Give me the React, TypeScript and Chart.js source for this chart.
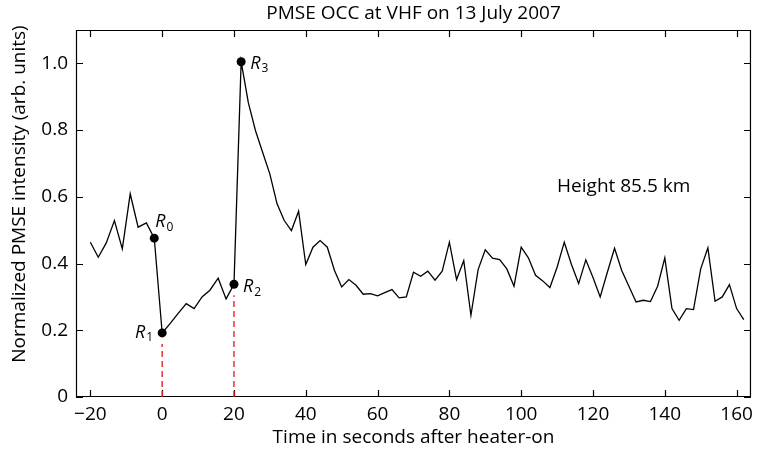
import React, { useEffect, useRef } from 'react';
import { Chart, registerables } from 'chart.js';

Chart.register(...registerables);

// Time (s after heater-on) and normalized PMSE intensity
const timeSec = [
  -20, -17.8, -15.6, -13.3, -11.1, -8.9, -6.7, -4.4, -2.2,
  0, 2.2, 4.4, 6.7, 8.9, 11.1, 13.3, 15.6, 17.8, 20,
  22, 24, 26, 28, 30, 32, 34, 36, 38, 40, 42, 44, 46, 48, 50,
  52, 54, 56, 58, 60, 62, 64, 66, 68, 70, 72, 74, 76, 78, 80,
  82, 84, 86, 88, 90, 92, 94, 96, 98, 100, 102, 104, 106, 108, 110,
  112, 114, 116, 118, 120, 122, 124, 126, 128, 130, 132, 134, 136, 138, 140,
  142, 144, 146, 148, 150, 152, 154, 156, 158, 160, 162,
];
const intensity = [
  0.464, 0.419, 0.461, 0.529, 0.444, 0.609, 0.509, 0.522, 0.476,
  0.192, 0.22, 0.25, 0.28, 0.265, 0.30, 0.32, 0.356, 0.294, 0.338,
  1.005, 0.882, 0.798, 0.733, 0.668, 0.579, 0.529, 0.499, 0.557, 0.397, 0.449, 0.469, 0.449, 0.379, 0.330,
  0.352, 0.335, 0.308, 0.310, 0.303, 0.313, 0.322, 0.297, 0.300, 0.374, 0.362, 0.377, 0.350, 0.377, 0.464,
  0.352, 0.409, 0.245, 0.382, 0.441, 0.416, 0.412, 0.384, 0.332, 0.449, 0.417, 0.365, 0.348, 0.328, 0.389,
  0.464, 0.397, 0.340, 0.411, 0.358, 0.300, 0.374, 0.446, 0.379, 0.332, 0.285, 0.290, 0.286, 0.332, 0.417,
  0.265, 0.230, 0.265, 0.262, 0.384, 0.447, 0.287, 0.300, 0.337, 0.265, 0.232,
];

// Marked points R0..R3 (by time) and heater reference lines
const markerNames = ['0', '1', '2', '3'];
const markerTimes = [-2.2, 0, 20, 22];
const heaterLineTimes = [0, 20];

const xTickValues = [-20, 0, 20, 40, 60, 80, 100, 120, 140, 160];
const yTickValues = [0, 0.2, 0.4, 0.6, 0.8, 1.0];

const titleText = 'PMSE OCC at VHF on 13 July 2007';
const xTitle = 'Time in seconds after heater-on';
const yTitle = 'Normalized PMSE intensity (arb. units)';
const heightLabel = 'Height 85.5 km';
const heightLabelPos = { x: 110, y: 0.63 };

const FONT = '"Open Sans", "Noto Sans", sans-serif';
const FS = 19;

const valueAt = (t: number) => intensity[timeSec.indexOf(t)];

export default function App() {
  const ref = useRef<HTMLCanvasElement | null>(null);

  useEffect(() => {
    document.body.style.margin = '0';
    const canvas = ref.current;
    if (!canvas) return;

    const mainData = timeSec.map((t, i) => ({ x: t, y: intensity[i] }));
    const markerData = markerTimes.map((t) => ({ x: t, y: valueAt(t) }));

    const heaterSets = heaterLineTimes.map((t) => ({
      type: 'line' as const,
      data: [
        { x: t, y: 0 },
        { x: t, y: valueAt(t) - 0.033 },
      ],
      borderColor: '#e5262b',
      borderWidth: 1.4,
      borderDash: [6, 4],
      pointRadius: 0,
      order: 3,
    }));

    const framePlugin = {
      id: 'frameTicks',
      beforeDatasetsDraw(chart: any) {
        const { ctx, chartArea, scales } = chart;
        const { left, right, top, bottom } = chartArea;
        const xs = scales.x;
        const ys = scales.y;
        ctx.save();
        ctx.strokeStyle = '#000';
        ctx.lineWidth = 1.2;
        ctx.beginPath();
        ctx.rect(left + 0.5, top + 0.5, right - left - 1, bottom - top - 1);
        ctx.stroke();
        ctx.beginPath();
        xs.ticks.forEach((tk: any) => {
          const px = Math.round(xs.getPixelForValue(tk.value)) + 0.5;
          ctx.moveTo(px, bottom);
          ctx.lineTo(px, bottom - 7);
          ctx.moveTo(px, top);
          ctx.lineTo(px, top + 7);
        });
        ys.ticks.forEach((tk: any) => {
          const py = Math.round(ys.getPixelForValue(tk.value)) + 0.5;
          ctx.moveTo(left, py);
          ctx.lineTo(left + 7, py);
          ctx.moveTo(right, py);
          ctx.lineTo(right - 7, py);
        });
        ctx.stroke();
        ctx.restore();
      },
      afterDraw(chart: any) {
        const { ctx, chartArea, scales } = chart;
        const { left, right } = chartArea;
        const xs = scales.x;
        const ys = scales.y;
        ctx.save();
        ctx.fillStyle = '#000';
        ctx.textBaseline = 'middle';
        ctx.textAlign = 'center';
        ctx.font = `${FS}px ${FONT}`;
        const cx = (left + right) / 2;
        ctx.fillText(titleText, cx, 14);
        ctx.fillText(xTitle, cx, 438);
        ctx.save();
        ctx.translate(20, 194);
        ctx.rotate(-Math.PI / 2);
        ctx.fillText(yTitle, 0, 0);
        ctx.restore();

        ctx.textAlign = 'left';
        ctx.fillText(heightLabel, xs.getPixelForValue(heightLabelPos.x), ys.getPixelForValue(heightLabelPos.y));

        // R labels
        const meta = chart.getDatasetMeta(1);
        const offs = [
          { dx: 1, dy: -16, align: 'left' },
          { dx: -9, dy: 0, align: 'right' },
          { dx: 9, dy: 3, align: 'left' },
          { dx: 9, dy: 2, align: 'left' },
        ];
        meta.data.forEach((pt: any, i: number) => {
          const o = offs[i];
          ctx.font = `italic 18px ${FONT}`;
          const wR = ctx.measureText('R').width;
          ctx.font = `12px ${FONT}`;
          const wS = ctx.measureText(markerNames[i]).width;
          const total = wR + 1 + wS;
          let x0 = pt.x + o.dx;
          if (o.align === 'right') x0 -= total;
          const yy = pt.y + o.dy;
          ctx.textAlign = 'left';
          ctx.font = `italic 18px ${FONT}`;
          ctx.fillText('R', x0, yy);
          ctx.font = `12px ${FONT}`;
          ctx.fillText(markerNames[i], x0 + wR + 1, yy + 5);
        });
        ctx.restore();
      },
    };

    const chart = new Chart(canvas, {
      type: 'line',
      data: {
        datasets: [
          {
            data: mainData,
            borderColor: '#000',
            borderWidth: 1.3,
            pointRadius: 0,
            tension: 0,
            order: 2,
          },
          {
            data: markerData,
            showLine: false,
            pointRadius: 4.5,
            pointBackgroundColor: '#000',
            pointBorderColor: '#000',
            pointBorderWidth: 0,
            order: 1,
          },
          ...heaterSets,
        ] as any,
      },
      options: {
        animation: false,
        responsive: false,
        events: [],
        layout: { padding: { top: 30, right: 3, left: 0, bottom: 0 } },
        plugins: {
          legend: { display: false },
          title: { display: false },
          tooltip: { enabled: false },
        },
        scales: {
          x: {
            type: 'linear',
            min: -24,
            max: 164,
            grid: { display: false, drawTicks: false },
            border: { display: false },
            afterBuildTicks: (scale: any) => {
              scale.ticks = xTickValues.map((v) => ({ value: v }));
            },
            afterFit: (scale: any) => {
              scale.height = 55;
            },
            ticks: {
              color: '#000',
              padding: 6,
              maxRotation: 0,
              autoSkip: false,
              font: { family: FONT, size: FS },
              callback: (v: any) => (v < 0 ? '\u2212' + Math.abs(v) : String(v)),
            },
          },
          y: {
            type: 'linear',
            min: 0,
            max: 1.1,
            grid: { display: false, drawTicks: false },
            border: { display: false },
            afterBuildTicks: (scale: any) => {
              scale.ticks = yTickValues.map((v) => ({ value: v }));
            },
            afterFit: (scale: any) => {
              scale.width = 76;
            },
            ticks: {
              color: '#000',
              padding: 8,
              autoSkip: false,
              font: { family: FONT, size: FS },
              callback: (v: any) => (v === 0 ? '0' : Number(v).toFixed(1)),
            },
          },
        },
      },
      plugins: [framePlugin],
    });

    return () => chart.destroy();
  }, []);

  return (
    <div style={{ width: 759, height: 452 }}>
      <canvas ref={ref} width={759} height={452} style={{ display: 'block' }} />
    </div>
  );
}
